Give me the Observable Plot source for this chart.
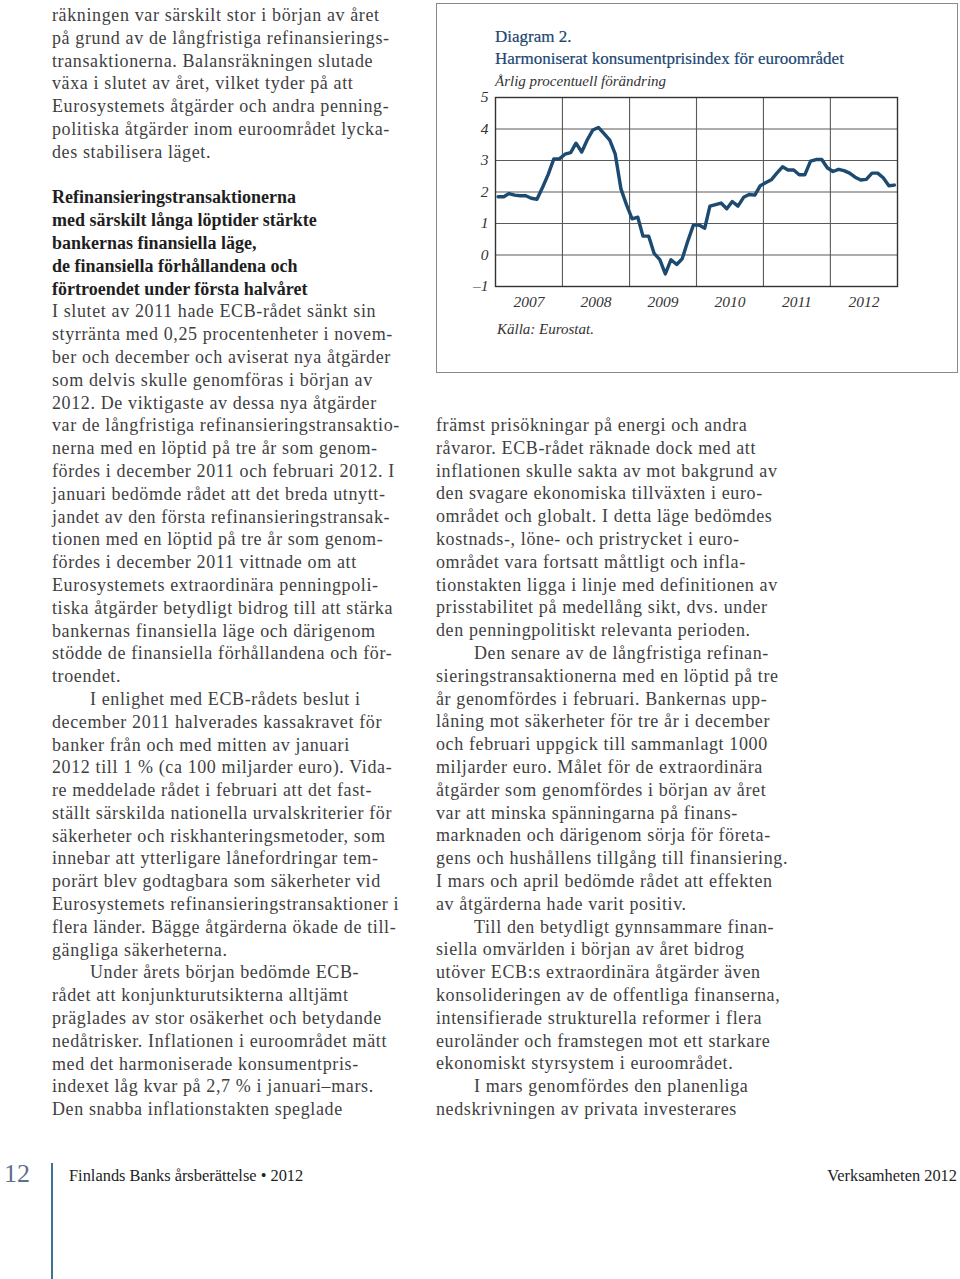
<!DOCTYPE html>
<html lang="sv">
<head>
<meta charset="utf-8">
<script src="https://cdn.jsdelivr.net/npm/d3@7"></script>
<script src="https://cdn.jsdelivr.net/npm/@observablehq/plot@0.6"></script>
<style>
  html, body { margin: 0; padding: 0; background: #fff; }
  #page { position: relative; width: 960px; height: 1279px; overflow: hidden;
          font-family: "Liberation Serif", "DejaVu Serif", serif; color: #3f3f3f; }
  .col { position: absolute; font-size: 18px; line-height: 22.8px; letter-spacing: 0.62px; }
  .col div { white-space: pre; height: 22.8px; }
  .col .b { font-weight: bold; color: #1e1e1e; letter-spacing: 0; }
  .col .ind { padding-left: 38px; }
  #chartbox { position: absolute; left: 436px; top: 3px; width: 520px; height: 368px;
              border: 1.5px solid #8a8a8a; }
  .ct { position: absolute; left: 58px; white-space: pre; color: #1b4672; font-size: 17px;
        -webkit-text-stroke: 0.2px #1b4672; }
  .cs { position: absolute; left: 58px; white-space: pre; color: #333; font-style: italic; font-size: 15px; }
  #plotwrap { position: absolute; left: 0px; top: 82px; }
  #footer-num { position: absolute; left: 4px; top: 1159px; font-size: 26px; color: #5d6f8e; }
  #footer-rule { position: absolute; left: 51px; top: 1163px; width: 1.5px; height: 116px; background: #3b7390; }
  #footer-left { position: absolute; left: 69px; top: 1166px; font-size: 16.4px; color: #222; white-space: pre; }
  #footer-right { position: absolute; right: 3px; top: 1166px; font-size: 16.4px; color: #222; white-space: pre; }
</style>
</head>
<body>
<div id="page">
  <div class="col" id="left" style="left:52px; top:4px;"></div>
  <div class="col" id="right" style="left:436px; top:414px;"></div>
  <div id="chartbox">
    <div class="ct" style="top:23px;">Diagram 2.</div>
    <div class="ct" style="top:45px;">Harmoniserat konsumentprisindex för euroområdet</div>
    <div class="cs" style="top:69px;">Årlig procentuell förändring</div>
    <div id="plotwrap"></div>
    <div class="cs" style="top:317px; left:60px;">Källa: Eurostat.</div>
  </div>
  <div id="footer-num">12</div>
  <div id="footer-rule"></div>
  <div id="footer-left">Finlands Banks årsberättelse • 2012</div>
  <div id="footer-right">Verksamheten 2012</div>
</div>
<script>
// ---- Chart data ----
const years = [2007, 2008, 2009, 2010, 2011, 2012];
const yTicks = [-1, 0, 1, 2, 3, 4, 5];
// Euro area HICP, annual % change, monthly Jan 2007 – Dec 2012
const hicp = [
  1.85, 1.85, 1.95, 1.9, 1.88, 1.88, 1.8, 1.77, 2.15, 2.55, 3.05, 3.05,
  3.2, 3.25, 3.55, 3.27, 3.65, 3.97, 4.05, 3.85, 3.65, 3.2, 2.1, 1.6,
  1.15, 1.2, 0.6, 0.6, 0.05, -0.15, -0.6, -0.15, -0.3, -0.12, 0.45, 0.95,
  0.95, 0.85, 1.55, 1.6, 1.65, 1.47, 1.7, 1.55, 1.83, 1.92, 1.9, 2.2,
  2.3, 2.4, 2.6, 2.8, 2.7, 2.7, 2.55, 2.55, 2.98, 3.03, 3.03, 2.77,
  2.65, 2.72, 2.68, 2.6, 2.47, 2.38, 2.4, 2.6, 2.6, 2.45, 2.2, 2.22
];

const series = hicp.map((v, i) => ({
  date: new Date(Date.UTC(years[0] + Math.floor(i / 12), i % 12, 15)),
  value: v
}));
const yearStart = y => new Date(Date.UTC(y, 0, 1));
const yearMid = y => new Date(Date.UTC(y, 6, 2));

const chart = Plot.plot({
  width: 520,
  height: 231,
  marginLeft: 58,
  marginRight: 60,
  marginTop: 11,
  marginBottom: 31,
  style: { fontFamily: "Liberation Serif, serif", fontStyle: "italic", fontSize: "15.5px", color: "#333", background: "transparent" },
  x: {
    type: "utc",
    domain: [yearStart(years[0]), yearStart(years[years.length - 1] + 1)],
    ticks: years.map(yearMid),
    tickFormat: d => String(d.getUTCFullYear()),
    tickSize: 0,
    tickPadding: 9,
    label: null
  },
  y: {
    domain: [-1, 5],
    ticks: yTicks,
    tickFormat: d => d < 0 ? "\u2013" + Math.abs(d) : String(d),
    tickSize: 0,
    tickPadding: 7,
    label: null
  },
  marks: [
    Plot.ruleY(yTicks.slice(1, -1), { stroke: "#5a5a5a", strokeWidth: 1.1 }),
    Plot.ruleX(years.slice(1).map(yearStart), { stroke: "#5a5a5a", strokeWidth: 1.1 }),
    Plot.frame({ stroke: "#333", strokeWidth: 1.4 }),
    Plot.line(series, { x: "date", y: "value", stroke: "#1c4a70", strokeWidth: 3.4, strokeLinejoin: "round" })
  ]
});
document.getElementById("plotwrap").appendChild(chart);

// ---- Page text ----
const leftLines = [
  "räkningen var särskilt stor i början av året",
  "på grund av de långfristiga refinansierings-",
  "transaktionerna. Balansräkningen slutade",
  "växa i slutet av året, vilket tyder på att",
  "Eurosystemets åtgärder och andra penning-",
  "politiska åtgärder inom euroområdet lycka-",
  "des stabilisera läget.",
  "",
  "#Refinansieringstransaktionerna",
  "#med särskilt långa löptider stärkte",
  "#bankernas finansiella läge,",
  "#de finansiella förhållandena och",
  "#förtroendet under första halvåret",
  "I slutet av 2011 hade ECB-rådet sänkt sin",
  "styrränta med 0,25 procentenheter i novem-",
  "ber och december och aviserat nya åtgärder",
  "som delvis skulle genomföras i början av",
  "2012. De viktigaste av dessa nya åtgärder",
  "var de långfristiga refinansieringstransaktio-",
  "nerna med en löptid på tre år som genom-",
  "fördes i december 2011 och februari 2012. I",
  "januari bedömde rådet att det breda utnytt-",
  "jandet av den första refinansieringstransak-",
  "tionen med en löptid på tre år som genom-",
  "fördes i december 2011 vittnade om att",
  "Eurosystemets extraordinära penningpoli-",
  "tiska åtgärder betydligt bidrog till att stärka",
  "bankernas finansiella läge och därigenom",
  "stödde de finansiella förhållandena och för-",
  "troendet.",
  ">I enlighet med ECB-rådets beslut i",
  "december 2011 halverades kassakravet för",
  "banker från och med mitten av januari",
  "2012 till 1 % (ca 100 miljarder euro). Vida-",
  "re meddelade rådet i februari att det fast-",
  "ställt särskilda nationella urvalskriterier för",
  "säkerheter och riskhanteringsmetoder, som",
  "innebar att ytterligare lånefordringar tem-",
  "porärt blev godtagbara som säkerheter vid",
  "Eurosystemets refinansieringstransaktioner i",
  "flera länder. Bägge åtgärderna ökade de till-",
  "gängliga säkerheterna.",
  ">Under årets början bedömde ECB-",
  "rådet att konjunkturutsikterna alltjämt",
  "präglades av stor osäkerhet och betydande",
  "nedåtrisker. Inflationen i euroområdet mätt",
  "med det harmoniserade konsumentpris-",
  "indexet låg kvar på 2,7 % i januari–mars.",
  "Den snabba inflationstakten speglade"
];
const rightLines = [
  "främst prisökningar på energi och andra",
  "råvaror. ECB-rådet räknade dock med att",
  "inflationen skulle sakta av mot bakgrund av",
  "den svagare ekonomiska tillväxten i euro-",
  "området och globalt. I detta läge bedömdes",
  "kostnads-, löne- och pristrycket i euro-",
  "området vara fortsatt måttligt och infla-",
  "tionstakten ligga i linje med definitionen av",
  "prisstabilitet på medellång sikt, dvs. under",
  "den penningpolitiskt relevanta perioden.",
  ">Den senare av de långfristiga refinan-",
  "sieringstransaktionerna med en löptid på tre",
  "år genomfördes i februari. Bankernas upp-",
  "låning mot säkerheter för tre år i december",
  "och februari uppgick till sammanlagt 1000",
  "miljarder euro. Målet för de extraordinära",
  "åtgärder som genomfördes i början av året",
  "var att minska spänningarna på finans-",
  "marknaden och därigenom sörja för företa-",
  "gens och hushållens tillgång till finansiering.",
  "I mars och april bedömde rådet att effekten",
  "av åtgärderna hade varit positiv.",
  ">Till den betydligt gynnsammare finan-",
  "siella omvärlden i början av året bidrog",
  "utöver ECB:s extraordinära åtgärder även",
  "konsolideringen av de offentliga finanserna,",
  "intensifierade strukturella reformer i flera",
  "euroländer och framstegen mot ett starkare",
  "ekonomiskt styrsystem i euroområdet.",
  ">I mars genomfördes den planenliga",
  "nedskrivningen av privata investerares"
];
function fill(id, lines) {
  const el = document.getElementById(id);
  for (const l of lines) {
    const d = document.createElement("div");
    if (l.startsWith("#")) { d.className = "b"; d.textContent = l.slice(1); }
    else if (l.startsWith(">")) { d.className = "ind"; d.textContent = l.slice(1); }
    else d.textContent = l;
    el.appendChild(d);
  }
}
fill("left", leftLines);
fill("right", rightLines);
</script>
</body>
</html>
